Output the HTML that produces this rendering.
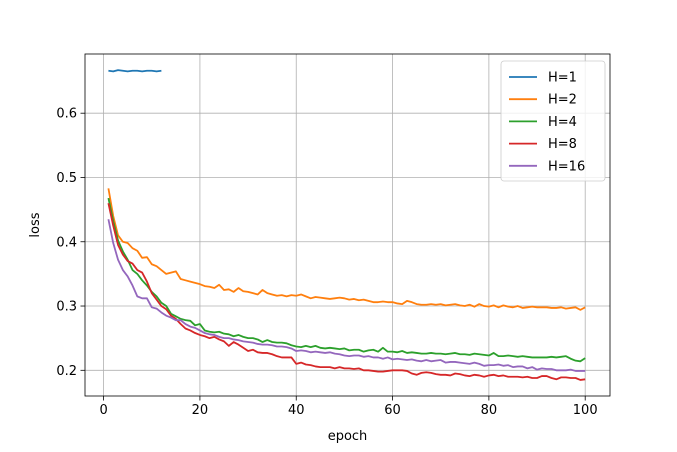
<!DOCTYPE html>
<html><head><meta charset="utf-8"><style>
html,body{margin:0;padding:0;background:#fff;}
svg{display:block;font-family:"DejaVu Sans","Liberation Sans",sans-serif;}
</style></head><body>
<svg id="chart" width="677" height="452" viewBox="0 0 677 452">
<rect x="0" y="0" width="677" height="452" fill="#fff"/>
<g id="grid"></g><g id="series"></g><g id="axes"></g><g id="legend"></g>
</svg>
<script>
const epochs = Array.from({length:100},(_,i)=>i+1);
const xTicks = [0,20,40,60,80,100];
const yTicks = [0.2,0.3,0.4,0.5,0.6];
const seriesNames = ["H=1","H=2","H=4","H=8","H=16"];
const colors = ["#1f77b4","#ff7f0e","#2ca02c","#d62728","#9467bd"];
const h1 = [0.666,0.665,0.667,0.666,0.665,0.666,0.666,0.665,0.666,0.666,0.665,0.666];
const h2 = [0.483,0.440,0.410,0.400,0.398,0.390,0.386,0.375,0.376,0.365,
0.362,0.356,0.350,0.352,0.354,0.342,0.340,0.338,0.336,0.334,
0.331,0.330,0.328,0.333,0.325,0.326,0.322,0.328,0.323,0.322,
0.320,0.318,0.325,0.320,0.318,0.316,0.317,0.315,0.317,0.316,
0.318,0.315,0.312,0.314,0.313,0.312,0.311,0.312,0.313,0.312,
0.310,0.311,0.309,0.310,0.308,0.306,0.306,0.307,0.306,0.306,
0.304,0.303,0.308,0.306,0.303,0.302,0.302,0.303,0.302,0.303,
0.301,0.302,0.303,0.301,0.300,0.302,0.299,0.303,0.300,0.299,
0.301,0.298,0.301,0.299,0.298,0.300,0.297,0.298,0.299,0.298,
0.298,0.298,0.297,0.297,0.298,0.296,0.297,0.298,0.294,0.298];
const h4 = [0.468,0.432,0.402,0.385,0.372,0.356,0.350,0.340,0.332,0.322,
0.315,0.305,0.300,0.288,0.284,0.280,0.278,0.277,0.270,0.272,
0.262,0.260,0.259,0.260,0.257,0.256,0.253,0.255,0.252,0.250,
0.250,0.248,0.244,0.247,0.244,0.243,0.243,0.242,0.239,0.237,
0.236,0.238,0.236,0.238,0.235,0.234,0.235,0.234,0.233,0.234,
0.231,0.232,0.232,0.229,0.231,0.232,0.229,0.235,0.229,0.229,
0.228,0.230,0.227,0.228,0.227,0.226,0.226,0.227,0.226,0.226,
0.225,0.226,0.227,0.225,0.225,0.224,0.226,0.225,0.224,0.223,
0.227,0.222,0.222,0.223,0.222,0.221,0.222,0.221,0.220,0.220,
0.220,0.220,0.221,0.220,0.221,0.222,0.218,0.215,0.214,0.219];
const h8 = [0.460,0.425,0.395,0.380,0.370,0.366,0.356,0.352,0.338,0.320,
0.310,0.300,0.295,0.285,0.280,0.272,0.265,0.262,0.258,0.255,
0.253,0.250,0.252,0.248,0.245,0.238,0.244,0.240,0.235,0.230,
0.232,0.228,0.227,0.227,0.225,0.222,0.220,0.220,0.220,0.210,
0.212,0.209,0.208,0.206,0.205,0.205,0.205,0.203,0.205,0.203,
0.203,0.202,0.203,0.200,0.200,0.199,0.198,0.198,0.199,0.200,
0.200,0.200,0.199,0.195,0.193,0.196,0.197,0.196,0.194,0.193,
0.193,0.192,0.195,0.194,0.192,0.191,0.193,0.192,0.190,0.192,
0.193,0.191,0.192,0.190,0.190,0.190,0.189,0.190,0.188,0.188,
0.191,0.191,0.188,0.186,0.189,0.189,0.188,0.188,0.185,0.186];
const h16 = [0.435,0.398,0.372,0.356,0.346,0.332,0.315,0.312,0.312,0.298,
0.296,0.290,0.285,0.282,0.278,0.278,0.272,0.268,0.266,0.262,
0.258,0.256,0.255,0.252,0.250,0.250,0.248,0.247,0.245,0.244,
0.243,0.241,0.240,0.240,0.239,0.237,0.237,0.236,0.234,0.230,
0.231,0.230,0.228,0.229,0.228,0.227,0.228,0.226,0.225,0.223,
0.222,0.223,0.223,0.221,0.222,0.220,0.220,0.218,0.220,0.217,
0.218,0.217,0.216,0.217,0.215,0.214,0.216,0.214,0.215,0.216,
0.212,0.213,0.213,0.212,0.211,0.210,0.212,0.210,0.207,0.208,
0.208,0.209,0.207,0.208,0.205,0.206,0.206,0.203,0.205,0.201,
0.203,0.202,0.202,0.200,0.200,0.200,0.201,0.199,0.199,0.199];

const NS="http://www.w3.org/2000/svg";
const L=85,R=610,T=54,B=396;
const X0=103.6,XS=(585.2-103.6)/100;
const Y0=370.3,YS=(370.3-113.2)/0.4;
function sx(v){return X0+v*XS;}
function sy(v){return Y0-(v-0.2)*YS;}
function mk(tag,attrs,parent){const e=document.createElementNS(NS,tag);for(const k in attrs)e.setAttribute(k,attrs[k]);parent.appendChild(e);return e;}
const grid=document.getElementById('grid'),axes=document.getElementById('axes'),ser=document.getElementById('series'),leg=document.getElementById('legend');

xTicks.forEach(t=>{
  const g=mk('line',{x1:sx(t),x2:sx(t),y1:T,y2:B,stroke:'#b0b0b0','stroke-width':0.8},grid);
  
  
  mk('line',{x1:sx(t),x2:sx(t),y1:B,y2:B+4.5,stroke:'#000','stroke-width':0.8},axes);
  const tx=mk('text',{x:sx(t),y:B+18,'text-anchor':'middle','font-size':'13px',fill:'#000'},axes);
  tx.textContent=t;
  
  
});
yTicks.forEach(t=>{
  const g=mk('line',{x1:L,x2:R,y1:sy(t),y2:sy(t),stroke:'#b0b0b0','stroke-width':0.8},grid);
  
  
  mk('line',{x1:L-4.5,x2:L,y1:sy(t),y2:sy(t),stroke:'#000','stroke-width':0.8},axes);
  const tx=mk('text',{x:L-8,y:sy(t)+4.5,'text-anchor':'end','font-size':'13px',fill:'#000'},axes);
  tx.textContent=t.toFixed(1);
  
  
});
const frame=mk('rect',{x:L,y:T,width:R-L,height:B-T,fill:'none',stroke:'#000','stroke-width':0.8},axes);


const xl=mk('text',{x:(L+R)/2,y:440,'text-anchor':'middle','font-size':'13px'},axes);
xl.textContent='epoch';


const yl=mk('text',{x:0,y:0,'text-anchor':'middle','font-size':'13px',transform:'translate(39,225) rotate(-90)'},axes);
yl.textContent='loss';



const allData=[h1,h2,h4,h8,h16];
const lineNames=['line-h1','line-h2','line-h4','line-h8','line-h16'];
allData.forEach((d,i)=>{
  const pts=d.map((v,j)=>sx(epochs[j]).toFixed(2)+','+sy(v).toFixed(2)).join(' ');
  const p=mk('polyline',{points:pts,fill:'none',stroke:colors[i],'stroke-width':1.8,'stroke-linejoin':'round'},ser);
  
  
});

const box=mk('rect',{x:501,y:61,width:104,height:120,rx:3,fill:'#fff','fill-opacity':0.8,stroke:'#ccc','stroke-width':0.8},leg);


seriesNames.forEach((n,i)=>{
  const y=77+i*22.2;
  const l=mk('line',{x1:509,x2:537,y1:y,y2:y,stroke:colors[i],'stroke-width':1.8},leg);
  
  
  const t=mk('text',{x:548,y:y+4.5,'font-size':'13px'},leg);
  t.textContent=n;
  
  
});
</script>
</body></html>
